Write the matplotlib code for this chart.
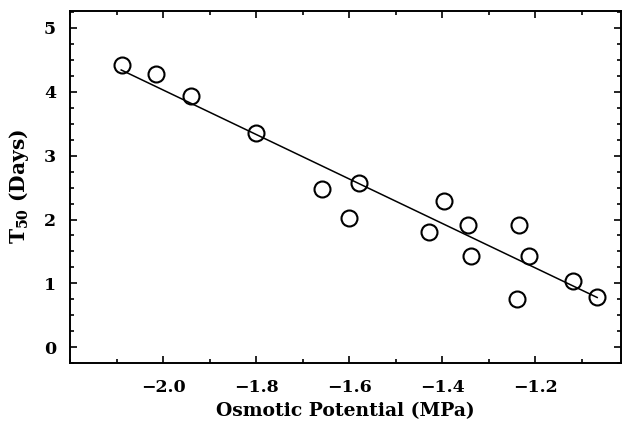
import numpy as np
import matplotlib
matplotlib.use('Agg')
import matplotlib.pyplot as plt
from matplotlib.ticker import MultipleLocator

# osmotic potential (MPa) and T50 (days)
osmotic = [-2.088, -2.015, -1.940, -1.800, -1.658, -1.600, -1.578, -1.428,
           -1.396, -1.344, -1.338, -1.236, -1.239, -1.213, -1.120, -1.067]
t50 = [4.42, 4.28, 3.94, 3.35, 2.48, 2.03, 2.57, 1.81,
       2.29, 1.92, 1.43, 1.92, 0.75, 1.43, 1.04, 0.78]
# regression line end points
fit_x = [-2.09, -1.067]
fit_y = [4.34, 0.78]

plt.rcParams['font.family'] = ['DejaVu Serif']
plt.rcParams['font.weight'] = 'bold'
plt.rcParams['axes.labelweight'] = 'bold'
plt.rcParams['mathtext.fontset'] = 'dejavuserif'
plt.rcParams['mathtext.default'] = 'regular'

fig = plt.figure(figsize=(6.23, 4.21), dpi=100)
ax = fig.add_axes([0.1124, 0.137, 0.885, 0.838])

ax.plot(fit_x, fit_y, color='black', linewidth=1.1)
ax.plot(osmotic, t50, linestyle='none', marker='o', markersize=11.5,
        markerfacecolor='none', markeredgecolor='black', markeredgewidth=1.5)

ax.set_xlim(-2.2, -1.015)
ax.set_ylim(-0.25, 5.27)
ax.xaxis.set_minor_locator(MultipleLocator(0.1))
ax.yaxis.set_major_locator(MultipleLocator(1))
ax.yaxis.set_minor_locator(MultipleLocator(0.25))
ax.set_xticks([-2.0, -1.8, -1.6, -1.4, -1.2])
ax.set_xticklabels(['\u22122.0', '\u22121.8', '\u22121.6', '\u22121.4', '\u22121.2'])

ax.tick_params(which='both', direction='in', top=True, right=True,
               labelsize=12.5, width=1.2)
ax.tick_params(which='major', length=5)
ax.tick_params(axis='x', which='major', pad=11)
ax.tick_params(axis='y', which='major', pad=10)
ax.tick_params(which='minor', length=3)
for s in ax.spines.values():
    s.set_linewidth(1.4)

ax.set_xlabel('Osmotic Potential (MPa)', fontsize=13.5, labelpad=5)
ax.set_ylabel(r'T$_{50}$ (Days)', fontsize=14.5, labelpad=9)

fig.savefig('out.png', dpi=100)
